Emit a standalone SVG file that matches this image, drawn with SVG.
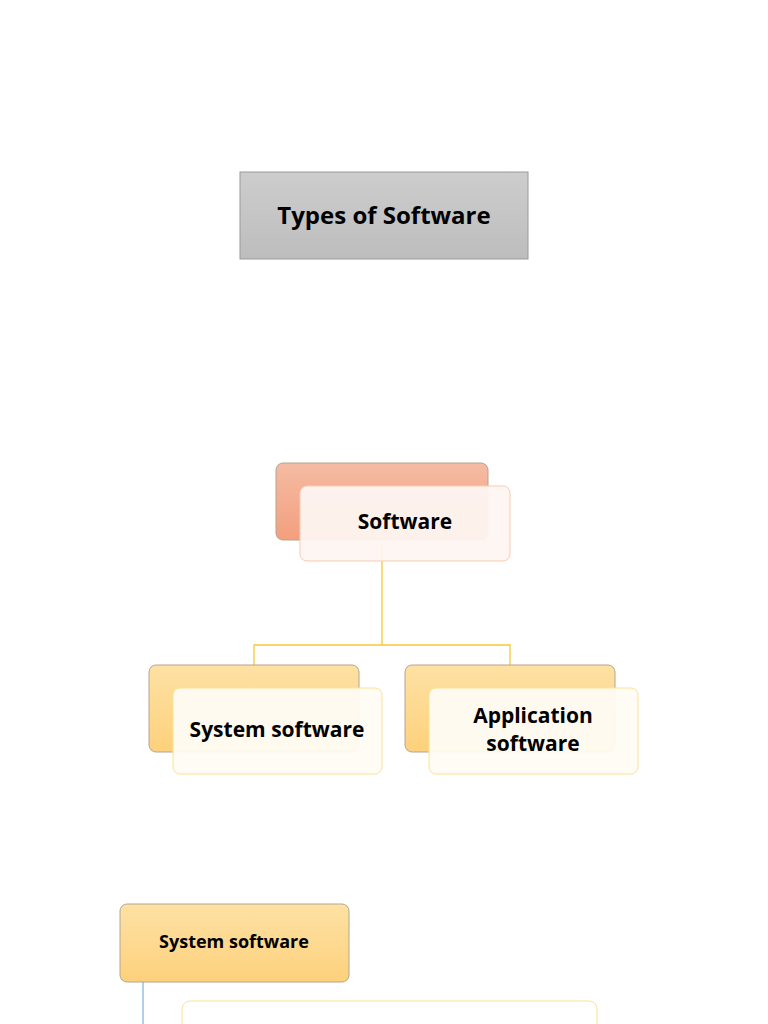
<svg xmlns="http://www.w3.org/2000/svg" width="768" height="1024" viewBox="0 0 768 1024">
<defs>
<linearGradient id="gGray" x1="0" y1="0" x2="0" y2="1"><stop offset="0" stop-color="#cdcdcd"/><stop offset="1" stop-color="#bdbdbd"/></linearGradient>
<linearGradient id="gSalmon" x1="0" y1="0" x2="0" y2="1"><stop offset="0" stop-color="#f5bba3"/><stop offset="1" stop-color="#f39f7e"/></linearGradient>
<linearGradient id="gGold" x1="0" y1="0" x2="0" y2="1"><stop offset="0" stop-color="#fee1a4"/><stop offset="1" stop-color="#fdd17c"/></linearGradient>
</defs>
<style>
.t{font-family:"Open Sans","Liberation Sans",sans-serif;font-weight:bold;fill:#000;text-anchor:middle}
.back{stroke:#b5a48f;stroke-width:1}
.frontS{fill:#fdf5f2;fill-opacity:0.94;stroke:#f9cbb0;stroke-width:1}
.frontG{fill:#fffcf5;fill-opacity:0.94;stroke:#fde28e;stroke-width:1}
.conn{fill:none;stroke:#f8c933;stroke-width:1.3}
</style>
<rect width="768" height="1024" fill="#fff"/>
<g id="title">
<rect x="240" y="172" width="288" height="87" fill="url(#gGray)" stroke="#9a9a9a"/>
<text class="t" x="384" y="224" font-size="24">Types of Software</text>
</g>
<g id="connectors">
<path class="conn" d="M382 540 V645 M254 665 V645 H510 V665"/>
<path d="M143 982 V1024" stroke="#94bfe3" stroke-width="1.5" fill="none"/>
</g>
<g id="software">
<rect class="back" x="276" y="463" width="212" height="77" rx="7" fill="url(#gSalmon)"/>
<rect class="frontS" x="300" y="486" width="210" height="75" rx="7"/>
<text class="t" x="405" y="529" font-size="21">Software</text>
</g>
<g id="system-software">
<rect class="back" x="149" y="665" width="210" height="87" rx="7" fill="url(#gGold)"/>
<rect class="frontG" x="173" y="688" width="209" height="86" rx="7"/>
<text class="t" x="277" y="737" font-size="21">System software</text>
</g>
<g id="application-software">
<rect class="back" x="405" y="665" width="210" height="87" rx="7" fill="url(#gGold)"/>
<rect class="frontG" x="429" y="688" width="209" height="86" rx="7"/>
<text class="t" x="533" y="723" font-size="21">Application</text>
<text class="t" x="533" y="751" font-size="21">software</text>
</g>
<g id="system-software-2">
<rect class="back" x="120" y="904" width="229" height="78" rx="7" fill="url(#gGold)"/>
<text class="t" x="234" y="948" font-size="18">System software</text>
</g>
<g id="detail-box">
<rect x="182" y="1001" width="415" height="60" rx="8" fill="#fff" stroke="#fde28e"/>
</g>
</svg>
